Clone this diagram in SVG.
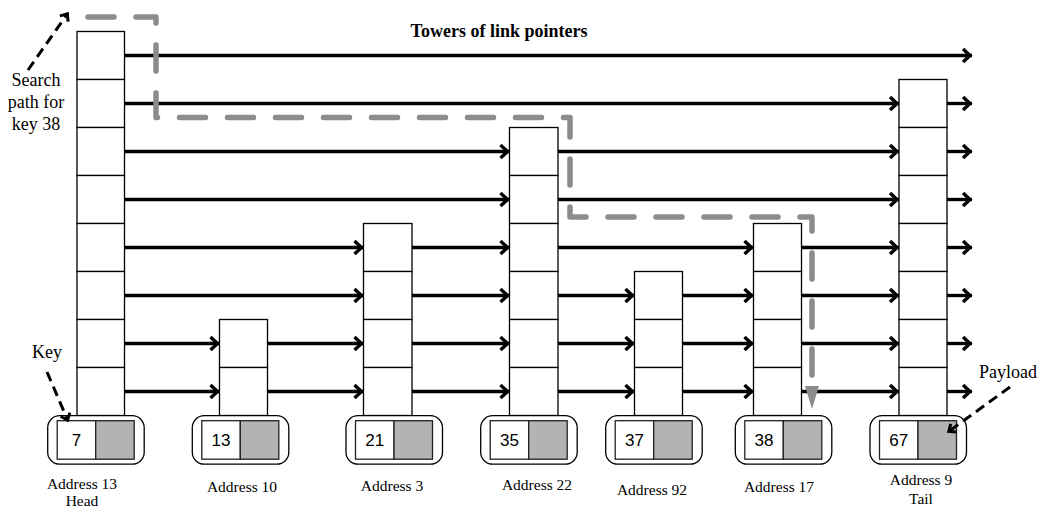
<svg xmlns="http://www.w3.org/2000/svg" width="1040" height="508" viewBox="0 0 1040 508">
<style>
.cell{fill:#fff;stroke:#000;stroke-width:1.3}
.box{fill:#fff;stroke:#000;stroke-width:1.3}
.key{fill:#fff;stroke:#222;stroke-width:1.3}
.pay{fill:#b3b3b3;stroke:#222;stroke-width:1.3}
.num{font-family:"Liberation Sans",Arial,sans-serif;font-size:17px;text-anchor:middle;fill:#000}
.lbl{font-family:"Liberation Serif","Times New Roman",serif;font-size:15.5px;text-anchor:middle;fill:#000}
.note{font-family:"Liberation Serif","Times New Roman",serif;font-size:18px;text-anchor:middle;fill:#000}
.title{font-family:"Liberation Serif","Times New Roman",serif;font-size:18px;font-weight:bold;text-anchor:middle;fill:#000}
.link{fill:none;stroke:#000;stroke-width:3.3;marker-end:url(#ah)}
.dash{fill:none;stroke:#000;stroke-width:3;stroke-dasharray:10 6;marker-end:url(#dh)}
.path{fill:none;stroke:#8c8c8c;stroke-width:5.5;stroke-linecap:round;stroke-linejoin:round;stroke-dasharray:26 22}
</style>
<defs>
<marker id="ah" markerUnits="userSpaceOnUse" markerWidth="16" markerHeight="18" viewBox="-13 -9 16 18" refX="0" refY="0" orient="auto" overflow="visible">
<path d="M-9,-6.5 L-2,0 L-9,6.5" fill="none" stroke="#000" stroke-width="3.4"/>
</marker>
<marker id="dh" markerUnits="userSpaceOnUse" markerWidth="14" markerHeight="14" viewBox="-11 -7 14 14" refX="0" refY="0" orient="auto" overflow="visible">
<path d="M-7,-5 L-1,0 L-7,5" fill="none" stroke="#000" stroke-width="3"/>
</marker>
</defs>

<g id="connectors">
<path class="link" d="M124.5,55.5 H972"/>
<path class="link" d="M124.5,103.5 H899"/>
<path class="link" d="M947,103.5 H972"/>
<path class="link" d="M124.5,151.5 H509.5"/>
<path class="link" d="M558,151.5 H899"/>
<path class="link" d="M947,151.5 H972"/>
<path class="link" d="M124.5,199.5 H509.5"/>
<path class="link" d="M558,199.5 H899"/>
<path class="link" d="M947,199.5 H972"/>
<path class="link" d="M124.5,247.5 H363.5"/>
<path class="link" d="M412,247.5 H509.5"/>
<path class="link" d="M558,247.5 H753.5"/>
<path class="link" d="M801.5,247.5 H899"/>
<path class="link" d="M947,247.5 H972"/>
<path class="link" d="M124.5,295.5 H363.5"/>
<path class="link" d="M412,295.5 H509.5"/>
<path class="link" d="M558,295.5 H634.5"/>
<path class="link" d="M682.5,295.5 H753.5"/>
<path class="link" d="M801.5,295.5 H899"/>
<path class="link" d="M947,295.5 H972"/>
<path class="link" d="M124.5,343.5 H219.5"/>
<path class="link" d="M267.5,343.5 H363.5"/>
<path class="link" d="M412,343.5 H509.5"/>
<path class="link" d="M558,343.5 H634.5"/>
<path class="link" d="M682.5,343.5 H753.5"/>
<path class="link" d="M801.5,343.5 H899"/>
<path class="link" d="M947,343.5 H972"/>
<path class="link" d="M124.5,391.5 H219.5"/>
<path class="link" d="M267.5,391.5 H363.5"/>
<path class="link" d="M412,391.5 H509.5"/>
<path class="link" d="M558,391.5 H634.5"/>
<path class="link" d="M682.5,391.5 H753.5"/>
<path class="link" d="M801.5,391.5 H899"/>
<path class="link" d="M947,391.5 H972"/>
</g>

<g id="node-head">
<rect class="cell" x="77" y="31.5" width="47.5" height="48"/>
<rect class="cell" x="77" y="79.5" width="47.5" height="48"/>
<rect class="cell" x="77" y="127.5" width="47.5" height="48"/>
<rect class="cell" x="77" y="175.5" width="47.5" height="48"/>
<rect class="cell" x="77" y="223.5" width="47.5" height="48"/>
<rect class="cell" x="77" y="271.5" width="47.5" height="48"/>
<rect class="cell" x="77" y="319.5" width="47.5" height="48"/>
<rect class="cell" x="77" y="367.5" width="47.5" height="48"/>
<rect class="box" x="47.7" y="415.7" width="96.5" height="48.5" rx="12"/>
<rect class="key" x="57.2" y="420.7" width="38.5" height="38.5"/>
<rect class="pay" x="95.7" y="420.7" width="38.5" height="38.5"/>
<text class="num" x="76.5" y="446">7</text>
<text class="lbl" x="82" y="489">Address 13</text>
<text class="lbl" x="82" y="505.5">Head</text>
</g>

<g id="node-10">
<rect class="cell" x="219.5" y="319.5" width="48" height="48"/>
<rect class="cell" x="219.5" y="367.5" width="48" height="48"/>
<rect class="box" x="192.3" y="415.7" width="96.5" height="48.5" rx="12"/>
<rect class="key" x="201.8" y="420.7" width="38.5" height="38.5"/>
<rect class="pay" x="240.3" y="420.7" width="38.5" height="38.5"/>
<text class="num" x="221" y="446">13</text>
<text class="lbl" x="242" y="492">Address 10</text>
</g>

<g id="node-3">
<rect class="cell" x="363.5" y="223.5" width="48.5" height="48"/>
<rect class="cell" x="363.5" y="271.5" width="48.5" height="48"/>
<rect class="cell" x="363.5" y="319.5" width="48.5" height="48"/>
<rect class="cell" x="363.5" y="367.5" width="48.5" height="48"/>
<rect class="box" x="346" y="415.7" width="96.5" height="48.5" rx="12"/>
<rect class="key" x="355.5" y="420.7" width="38.5" height="38.5"/>
<rect class="pay" x="394" y="420.7" width="38.5" height="38.5"/>
<text class="num" x="374.7" y="446">21</text>
<text class="lbl" x="392" y="491">Address 3</text>
</g>

<g id="node-22">
<rect class="cell" x="509.5" y="127.5" width="48.5" height="48"/>
<rect class="cell" x="509.5" y="175.5" width="48.5" height="48"/>
<rect class="cell" x="509.5" y="223.5" width="48.5" height="48"/>
<rect class="cell" x="509.5" y="271.5" width="48.5" height="48"/>
<rect class="cell" x="509.5" y="319.5" width="48.5" height="48"/>
<rect class="cell" x="509.5" y="367.5" width="48.5" height="48"/>
<rect class="box" x="480.7" y="415.7" width="96.5" height="48.5" rx="12"/>
<rect class="key" x="490.2" y="420.7" width="38.5" height="38.5"/>
<rect class="pay" x="528.7" y="420.7" width="38.5" height="38.5"/>
<text class="num" x="509.5" y="446">35</text>
<text class="lbl" x="537" y="490">Address 22</text>
</g>

<g id="node-92">
<rect class="cell" x="634.5" y="271.5" width="48" height="48"/>
<rect class="cell" x="634.5" y="319.5" width="48" height="48"/>
<rect class="cell" x="634.5" y="367.5" width="48" height="48"/>
<rect class="box" x="605.7" y="415.7" width="96.5" height="48.5" rx="12"/>
<rect class="key" x="615.2" y="420.7" width="38.5" height="38.5"/>
<rect class="pay" x="653.7" y="420.7" width="38.5" height="38.5"/>
<text class="num" x="634.5" y="446">37</text>
<text class="lbl" x="652" y="495">Address 92</text>
</g>

<g id="node-17">
<rect class="cell" x="753.5" y="223.5" width="48" height="48"/>
<rect class="cell" x="753.5" y="271.5" width="48" height="48"/>
<rect class="cell" x="753.5" y="319.5" width="48" height="48"/>
<rect class="cell" x="753.5" y="367.5" width="48" height="48"/>
<rect class="box" x="735.3" y="415.7" width="96.5" height="48.5" rx="12"/>
<rect class="key" x="744.8" y="420.7" width="38.5" height="38.5"/>
<rect class="pay" x="783.3" y="420.7" width="38.5" height="38.5"/>
<text class="num" x="764" y="446">38</text>
<text class="lbl" x="779" y="492">Address 17</text>
</g>

<g id="node-tail">
<rect class="cell" x="899" y="79.5" width="48" height="48"/>
<rect class="cell" x="899" y="127.5" width="48" height="48"/>
<rect class="cell" x="899" y="175.5" width="48" height="48"/>
<rect class="cell" x="899" y="223.5" width="48" height="48"/>
<rect class="cell" x="899" y="271.5" width="48" height="48"/>
<rect class="cell" x="899" y="319.5" width="48" height="48"/>
<rect class="cell" x="899" y="367.5" width="48" height="48"/>
<rect class="box" x="870" y="415.7" width="96.5" height="48.5" rx="12"/>
<rect class="key" x="879.5" y="420.7" width="38.5" height="38.5"/>
<rect class="pay" x="918" y="420.7" width="38.5" height="38.5"/>
<text class="num" x="898.7" y="446">67</text>
<text class="lbl" x="921" y="485">Address 9</text>
<text class="lbl" x="921" y="504">Tail</text>
</g>

<g id="search-path">
<path class="path" d="M88,17 H156 V117.5 H570 V217 H812 V384"/>
<polygon points="805,386 819,386 812,409" fill="#8c8c8c"/>
</g>

<g id="annotations">
<text class="title" x="499" y="37">Towers of link pointers</text>
<text class="note" x="36" y="86">Search</text>
<text class="note" x="36" y="108">path for</text>
<text class="note" x="36" y="130">key 38</text>
<path class="dash" d="M28,70 L68,13"/>
<text class="note" x="47" y="358">Key</text>
<path class="dash" d="M47,372 L68,421"/>
<text class="note" x="1008" y="378">Payload</text>
<path class="dash" d="M1010,387 L948,432"/>
</g>
</svg>
